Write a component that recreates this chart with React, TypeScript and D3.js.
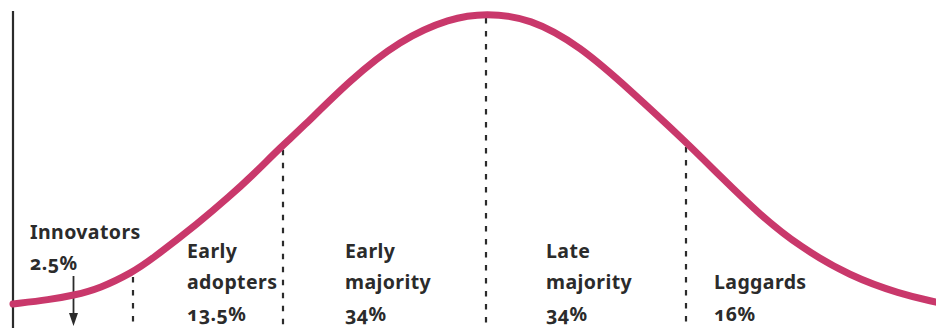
import React from "react";
import * as d3 from "d3";

// Adoption timeline in standard-deviation units from the mean
const curveTime = [-2.365, -2.18, -2.065, -1.93, -1.765, -1.68, -1.43, -1.28, -1.18, -1.015, -0.93, -0.68, -0.43, -0.18, 0, 0.22, 0.47, 0.72, 1.0, 1.17, 1.37, 1.57, 1.82, 2.07, 2.25];
// Relative share of adopters at each point in time (peak = 100)
const curveDensity = [8.2, 9.6, 10.9, 13.1, 18.3, 21.9, 34.1, 42.3, 48.0, 58.4, 63.1, 78.9, 91.5, 98.4, 100, 98.4, 89.6, 75.7, 59.3, 48.6, 36.3, 26.2, 17.0, 11.4, 8.8];

// Segment boundaries along the timeline
const boundaryTime = [-1.765, -1.015, 0, 1.0];

// Adopter categories and their share of the population
const categoryLines = [["Innovators"], ["Early", "adopters"], ["Early", "majority"], ["Late", "majority"], ["Laggards"]];
const categoryShare = ["2.5%", "13.5%", "34%", "34%", "16%"];

const W = 936;
const H = 328;
const CURVE_COLOR = "#c9386b";
const INK = "#2b2b2b";

// Label anchors (pixel x)
const labelX = [30, 187, 345, 546, 714];
const LINE_GAP = 31.5;
const BOTTOM_BASELINE = 320.5;

export default function App() {
  const x = d3.scaleLinear().domain([-2.37, 2.25]).range([12, 936]);
  const y = d3.scaleLinear().domain([0, 100]).range([330, 13]);

  const pts: [number, number][] = curveTime.map((t, i) => [t, curveDensity[i]]);
  const line = d3
    .line<[number, number]>()
    .x((d) => x(d[0]))
    .y((d) => y(d[1]))
    .curve(d3.curveBasis);

  const densityAt = (t: number) => {
    const i = d3.bisector((d: number) => d).left(curveTime, t);
    if (i <= 0) return curveDensity[0];
    if (i >= curveTime.length) return curveDensity[curveDensity.length - 1];
    const t0 = curveTime[i - 1];
    const t1 = curveTime[i];
    const k = (t - t0) / (t1 - t0);
    return curveDensity[i - 1] + k * (curveDensity[i] - curveDensity[i - 1]);
  };

  const arrowX = x((x.invert(12) + boundaryTime[0]) / 2) + 1;

  const font = {
    fontFamily: "'Noto Sans', 'Open Sans', sans-serif",
    fontWeight: 700,
    fontSize: 19.5,
    letterSpacing: "0.4px",
    fill: INK,
    fontVariantNumeric: "oldstyle-nums",
  } as React.CSSProperties;

  return (
    <svg
      width={W}
      height={H}
      viewBox={`0 0 ${W} ${H}`}
      style={{ position: "absolute", left: 0, top: 0, background: "#fff" }}
    >
      {/* vertical axis */}
      <line x1={13} x2={13} y1={11} y2={H} stroke={INK} strokeWidth={2.2} />

      {/* segment boundaries */}
      {boundaryTime.map((t, i) => (
        <line
          key={i}
          x1={x(t)}
          x2={x(t)}
          y1={y(densityAt(t)) + 5}
          y2={H}
          stroke={INK}
          strokeWidth={2.2}
          strokeDasharray="5.5 7.5"
        />
      ))}

      {/* innovators arrow */}
      <line x1={arrowX} x2={arrowX} y1={276} y2={316} stroke={INK} strokeWidth={1.8} />
      <path d={`M${arrowX - 4.5},313 L${arrowX + 4.5},313 L${arrowX},326 Z`} fill={INK} />

      {/* adoption curve */}
      <path d={line(pts) || ""} fill="none" stroke={CURVE_COLOR} strokeWidth={7} strokeLinecap="round" />

      {/* category labels */}
      {categoryLines.map((lines, i) => {
        const all = [...lines, categoryShare[i]];
        return (
          <text key={i} style={font}>
            {all.map((s, j) => (
              <tspan key={j} x={labelX[i]} y={BOTTOM_BASELINE - (all.length - 1 - j) * LINE_GAP + (i === 0 ? -50.5 : 0)}>
                {s}
              </tspan>
            ))}
          </text>
        );
      })}
    </svg>
  );
}
